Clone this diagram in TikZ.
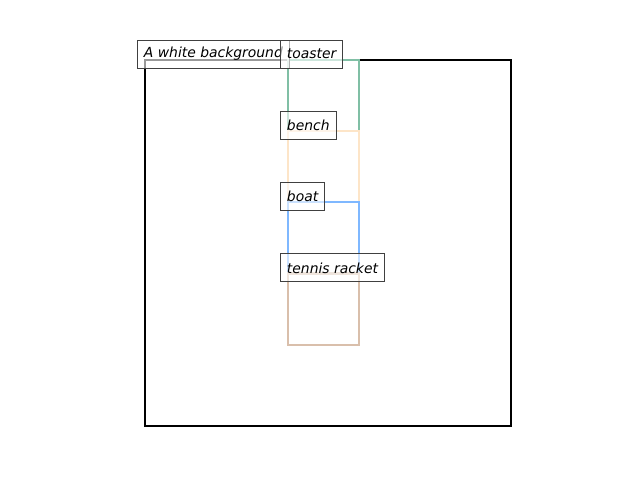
\documentclass[tikz,border=0pt]{standalone}
\usepackage{fontspec}
\setmainfont{DejaVu Sans}
\usepackage{xcolor}
\usepackage{tikz}
\usetikzlibrary{positioning,calc}
\definecolor{toasterGreen}{HTML}{80BFA5}
\definecolor{benchOrange}{HTML}{FDE5C8}
\definecolor{boatBlue}{HTML}{7FB8FF}
\definecolor{racketTan}{HTML}{D9BFAB}
\definecolor{labelBorder}{HTML}{404040}
\tikzset{
  regionBox/.style={
    rectangle,
    draw=#1,
    line width=2.3pt,
    inner sep=0pt,
    anchor=north west
  },
  tagLabel/.style={
    rectangle,
    draw=labelBorder,
    line width=0.9pt,
    fill=white,
    fill opacity=0.6,
    text opacity=1,
    inner xsep=6.5pt,
    minimum height=28pt,
    anchor=west,
    font=\fontsize{13.9}{16}\selectfont\itshape
  }
}

\begin{document}
\begin{tikzpicture}[x=1pt,y=-1pt]
        \useasboundingbox (0,0) rectangle (640,480);

        \node[regionBox=black, minimum width=366pt, minimum height=366pt] (background) at (143.5,58.5) {};
        \node[regionBox=toasterGreen, minimum width=71pt, minimum height=71.3pt] (toaster) at (286.5,58.5) {};
        \node[regionBox=benchOrange, minimum width=71pt, minimum height=71.3pt] (bench) at (286.5,129.8) {};
        \node[regionBox=boatBlue, minimum width=71pt, minimum height=71.3pt] (boat) at (286.5,201.1) {};
        \node[regionBox=racketTan, minimum width=71pt, minimum height=71.3pt] (racket) at (286.5,272.4) {};

        \node[tagLabel] (backgroundTag) at ([xshift=-6.5pt,yshift=4.5pt]background.north west) {A white background};
        \node[tagLabel] (toasterTag) at ([xshift=-6.5pt,yshift=4.5pt]toaster.north west) {toaster};
        \node[tagLabel] (benchTag) at ([xshift=-6.5pt,yshift=4.5pt]bench.north west) {bench};
        \node[tagLabel] (boatTag) at ([xshift=-6.5pt,yshift=4.5pt]boat.north west) {boat};
        \node[tagLabel] (racketTag) at ([xshift=-6.5pt,yshift=4.5pt]racket.north west) {tennis racket};

    \end{tikzpicture}
\end{document}
